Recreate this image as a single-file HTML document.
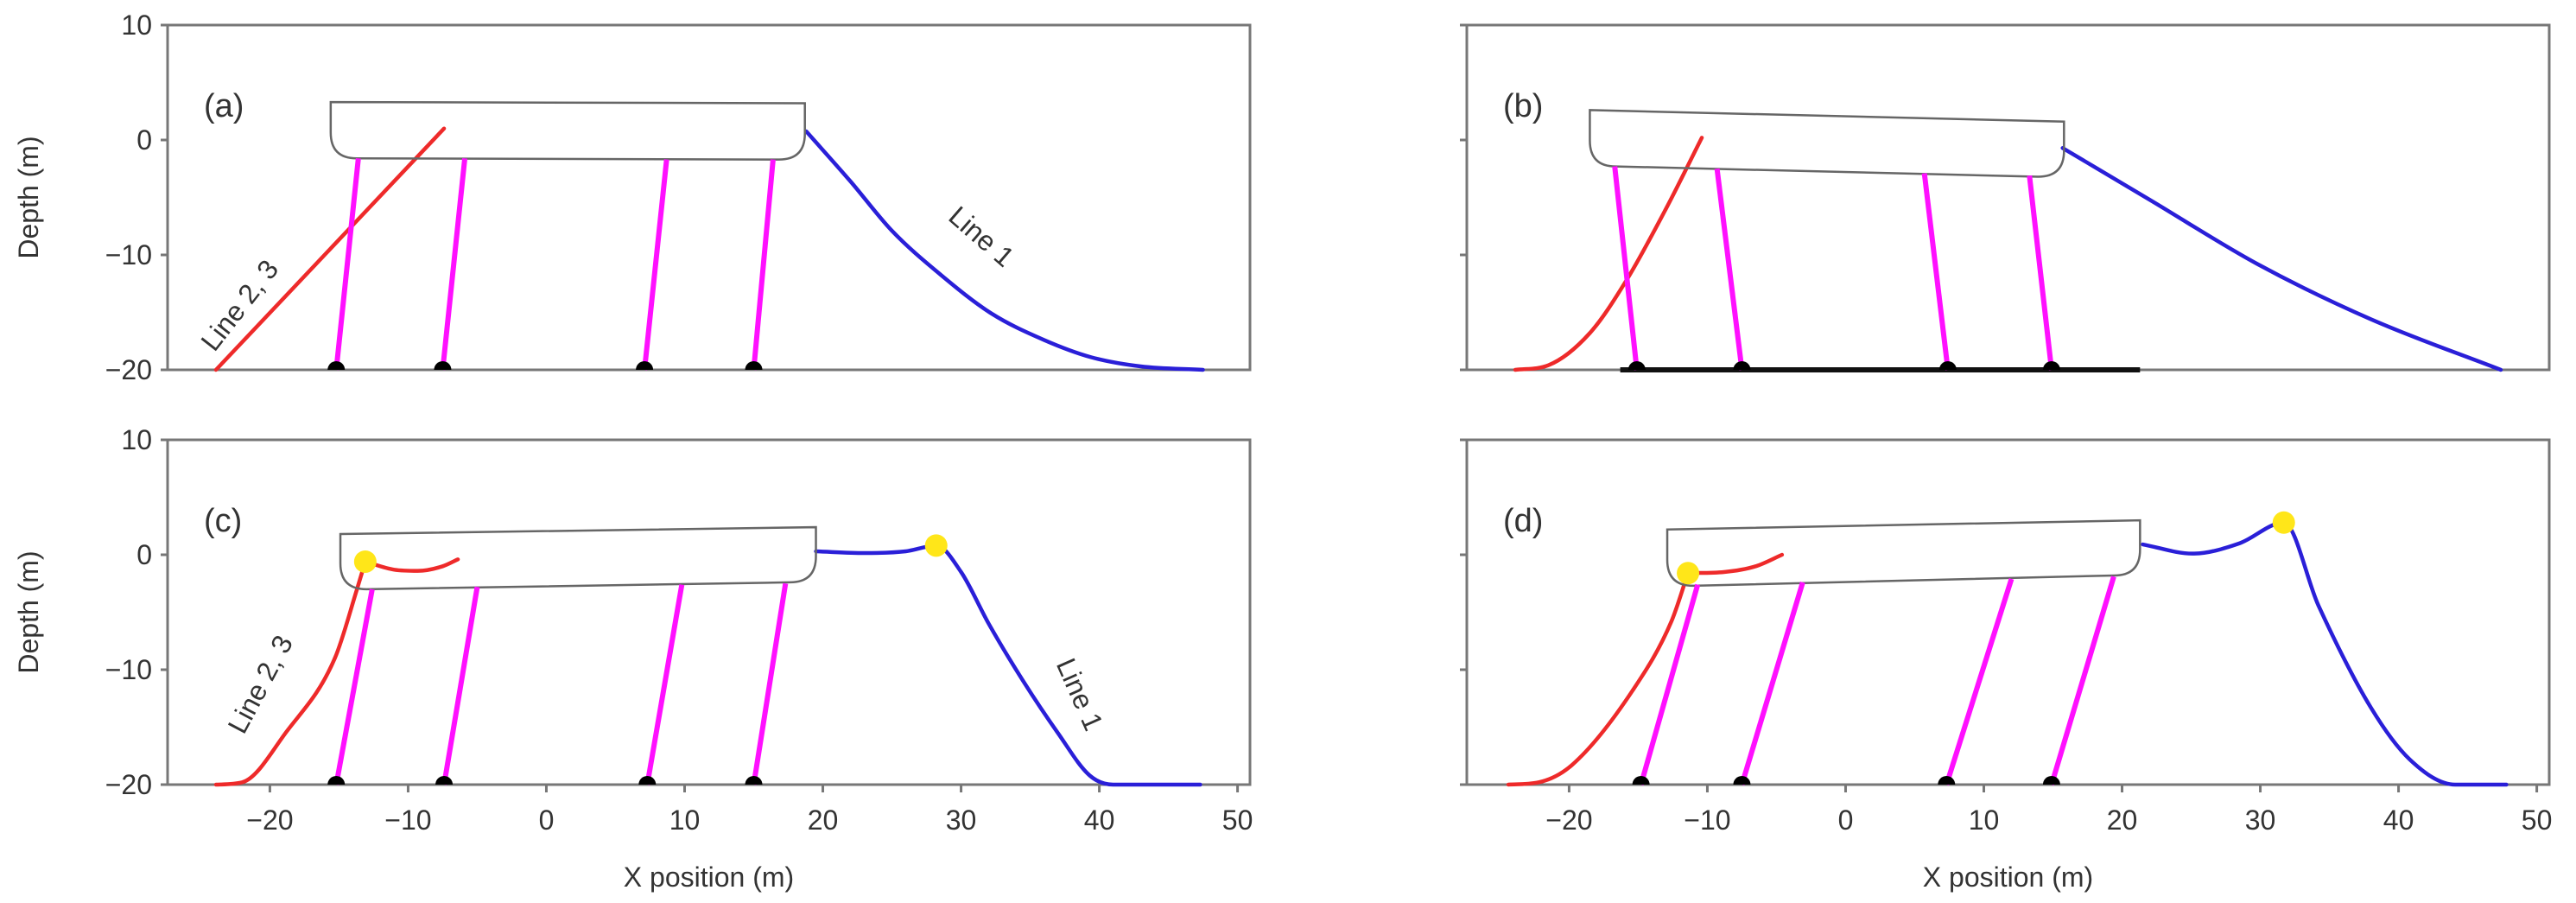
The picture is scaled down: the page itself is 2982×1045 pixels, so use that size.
<!DOCTYPE html>
<html><head><meta charset="utf-8"><style>
html,body{margin:0;padding:0;background:#fff;}
svg{display:block;}
text{font-family:"Liberation Sans",sans-serif;fill:#333;}
</style></head><body>
<svg id="fig" width="2982" height="1045" viewBox="0 0 2982 1045" xmlns="http://www.w3.org/2000/svg"></svg>
<script>
// ---- data (x in m, depth in m) ----
const xTicks = [-20,-10,0,10,20,30,40,50];
const yTicks = [10,0,-10,-20];
const panelLabels = ['(a)','(b)','(c)','(d)'];
// barge corners: TL, TR, BR, BL
const bargeA = [[-15.6,3.3],[18.7,3.2],[18.7,-1.7],[-15.6,-1.6]];
const bargeB = [[-18.5,2.6],[15.8,1.6],[15.8,-3.2],[-18.5,-2.3]];
const bargeC = [[-14.9,1.8],[19.5,2.4],[19.5,-2.4],[-14.9,-3.0]];
const bargeD = [[-12.9,2.2],[21.3,3.0],[21.3,-1.8],[-12.9,-2.7]];
// mooring legs: [topX, topY, bottomX]
const legsA = [[-13.6,-1.6,-15.2],[-5.9,-1.6,-7.5],[8.7,-1.7,7.1],[16.4,-1.7,15.0]];
const legsB = [[-16.7,-2.3,-15.1],[-9.3,-2.5,-7.5],[5.7,-2.9,7.4],[13.3,-3.1,14.9]];
const legsC = [[-12.6,-3.0,-15.2],[-5.0,-2.8,-7.4],[9.8,-2.6,7.3],[17.3,-2.5,15.0]];
const legsD = [[-10.7,-2.6,-14.8],[-3.1,-2.4,-7.5],[12.0,-2.1,7.3],[19.4,-1.9,14.9]];
// line 1 (blue)
const blueA = [[18.8,0.75],[22,-3.6],[25,-7.9],[28.5,-11.7],[32.2,-15.1],[36,-17.4],[39.4,-18.9],[43,-19.7],[47.5,-20]];
const blueB = [[15.7,-0.7],[22,-5.2],[29.8,-10.8],[38,-15.6],[47.4,-20]];
const blueC = [[19.5,0.3],[23,0.15],[26,0.3],[28.2,0.8],[30,-1.5],[32,-6],[34.5,-11],[37,-15.5],[39.3,-19.2],[41,-20],[47.3,-20]];
const blueD = [[21.5,0.9],[25.1,0.1],[28.5,1.0],[31.7,2.8],[34.2,-4.4],[38,-13.3],[40.8,-17.8],[44.1,-20],[47.8,-20]];
// lines 2,3 (red)
const redA = [[-23.9,-20],[-7.4,1.0]];
const redB = [[-23.9,-20],[-21.5,-19.6],[-18.5,-16.8],[-15.9,-12.3],[-13,-6],[-10.4,0.2]];
const redC = [[-23.9,-20],[-22,-19.8],[-18.8,-15.4],[-15.3,-9.0],[-13.7,-3.0],[-13.1,-0.6]];
const redCshort = [[-13.1,-0.6],[-11,-1.3],[-9.3,-1.4],[-7.5,-1.0],[-6.4,-0.4]];
const redD = [[-24.4,-20],[-22.2,-19.8],[-19.8,-18.3],[-15.4,-11.8],[-12.6,-5.8],[-11.4,-1.6]];
const redDshort = [[-11.4,-1.6],[-8.8,-1.5],[-6.5,-1.0],[-4.6,0]];
// buoys (yellow)
const buoysC = [[-13.1,-0.6],[28.2,0.8]];
const buoysD = [[-11.4,-1.6],[31.7,2.8]];
const seabedB = [-16.3,21.3];

const panels = [
 {id:'a',x0:194,y0:29,barge:bargeA,legs:legsA,blue:blueA,red:[redA],buoys:[],seabed:null,yl:true,xl:false},
 {id:'b',x0:1698,y0:29,barge:bargeB,legs:legsB,blue:blueB,red:[redB],buoys:[],seabed:seabedB,yl:false,xl:false},
 {id:'c',x0:194,y0:509,barge:bargeC,legs:legsC,blue:blueC,red:[redC,redCshort],buoys:buoysC,seabed:null,yl:true,xl:true},
 {id:'d',x0:1698,y0:509,barge:bargeD,legs:legsD,blue:blueD,red:[redD,redDshort],buoys:buoysD,seabed:null,yl:false,xl:true}
];
const XMIN=-27.4, XMAX=50.9, YMIN=-20, YMAX=10, W=1253, H=399;
const NS='http://www.w3.org/2000/svg';
const svg=document.getElementById('fig');
function mk(tag,attrs,parent){const e=document.createElementNS(NS,tag);for(const k in attrs)e.setAttribute(k,attrs[k]);(parent||svg).appendChild(e);return e;}
// monotone cubic (in x) path
function smooth(p){
  const n=p.length;
  if(n<3) return 'M'+p.map(q=>q.join(',')).join(' L');
  const d=[],m=[];
  for(let i=0;i<n-1;i++) d.push((p[i+1][1]-p[i][1])/(p[i+1][0]-p[i][0]));
  m[0]=d[0]; m[n-1]=d[n-2];
  for(let i=1;i<n-1;i++) m[i]=(d[i-1]*d[i]<=0)?0:(d[i-1]+d[i])/2;
  for(let i=0;i<n-1;i++){
    if(d[i]===0){m[i]=0;m[i+1]=0;continue;}
    const a=m[i]/d[i],b=m[i+1]/d[i],s=a*a+b*b;
    if(s>9){const t=3/Math.sqrt(s);m[i]=t*a*d[i];m[i+1]=t*b*d[i];}
  }
  let s='M'+p[0][0]+','+p[0][1];
  for(let i=0;i<n-1;i++){
    const h=(p[i+1][0]-p[i][0])/3;
    s+=' C'+(p[i][0]+h)+','+(p[i][1]+m[i]*h)+' '+(p[i+1][0]-h)+','+(p[i+1][1]-m[i+1]*h)+' '+p[i+1][0]+','+p[i+1][1];
  }
  return s;
}
panels.forEach((P,pi)=>{
  const sx=v=>P.x0+(v-XMIN)/(XMAX-XMIN)*W;
  const sy=v=>P.y0+(YMAX-v)/(YMAX-YMIN)*H;
  const g=mk('g',{});
  
  
  const fr=mk('rect',{x:P.x0,y:P.y0,width:W,height:H,fill:'none',stroke:'#777','stroke-width':3},g);
  
  
  yTicks.forEach(t=>{
    const tk=mk('line',{x1:P.x0-8,x2:P.x0,y1:sy(t),y2:sy(t),stroke:'#777','stroke-width':3},g);
    
    
    if(P.yl){
      const tl=mk('text',{x:P.x0-18,y:sy(t)+11,'font-size':32,'text-anchor':'end'},g);
      tl.textContent=String(t).replace('-','\u2212');
      
      
    }
  });
  if(P.yl){
    const yt=mk('text',{x:0,y:0,'font-size':32,'text-anchor':'middle',transform:'translate(44,'+(P.y0+H/2)+') rotate(-90)'},g);
    yt.textContent='Depth (m)';
    
    
  }
  if(P.xl){
    xTicks.forEach(t=>{
      const tk=mk('line',{x1:sx(t),x2:sx(t),y1:P.y0+H,y2:P.y0+H+9,stroke:'#777','stroke-width':3},g);
      
      
      const tl=mk('text',{x:sx(t),y:P.y0+H+52,'font-size':32,'text-anchor':'middle'},g);
      tl.textContent=String(t).replace('-','\u2212');
      
      
    });
    const xt=mk('text',{x:P.x0+W/2,y:P.y0+H+118,'font-size':32,'text-anchor':'middle'},g);
    xt.textContent='X position (m)';
    
    
  }
  const pl=mk('text',{x:P.x0+42,y:P.y0+106,'font-size':38},g);
  pl.textContent=panelLabels[pi];
  
  
  if(P.seabed){
    const sb=mk('line',{x1:sx(P.seabed[0]),x2:sx(P.seabed[1]),y1:sy(-20),y2:sy(-20),stroke:'#111','stroke-width':6},g);
    
    
  }
  P.red.forEach(r=>{
    const pts=r.map(p=>[sx(p[0]),sy(p[1])]);
    const pa=mk('path',{d:smooth(pts),fill:'none',stroke:'#ee2a2a','stroke-width':4.5,'stroke-linecap':'round'},g);
    
    
  });
  {
    const pts=P.blue.map(p=>[sx(p[0]),sy(p[1])]);
    const pa=mk('path',{d:smooth(pts),fill:'none',stroke:'#2a1fd8','stroke-width':4.5,'stroke-linecap':'round'},g);
    
    
  }
  {
    const b=P.barge.map(p=>[sx(p[0]),sy(p[1])]);
    const [TL,TR,BR,BL]=b; const r=30;
    const d='M'+TL+' L'+TR+' L'+[TR[0],BR[1]-r]+' Q'+BR+' '+[BR[0]-r,BR[1]]+' L'+[BL[0]+r,BL[1]]+' Q'+BL+' '+[BL[0],BL[1]-r]+' Z';
    const bp=mk('path',{d:d,fill:'none',stroke:'#666','stroke-width':2.5},g);
    
    
  }
  P.legs.forEach(L=>{
    const ln=mk('line',{x1:sx(L[0]),y1:sy(L[1]),x2:sx(L[2]),y2:sy(-20),stroke:'#ff10ff','stroke-width':6},g);
    
    
    const cx=sx(L[2]),cy=sy(-20);
    const an=mk('path',{d:'M'+(cx-10)+','+cy+' A10,10 0 0 1 '+(cx+10)+','+cy+' Z',fill:'#000'},g);
    
    
  });
  P.buoys.forEach(bu=>{
    const c=mk('circle',{cx:sx(bu[0]),cy:sy(bu[1]),r:13,fill:'#ffe619'},g);
    
    
  });
});
function ann(txt,x,y,rot,name){
  const t=mk('text',{'font-size':32,'text-anchor':'middle',transform:'translate('+x+','+y+') rotate('+rot+')'});
  t.textContent=txt;
  
  
}
ann('Line 2, 3',286,360,-52,'line-2-3-label-a');
ann('Line 1',1129,282,41,'line-1-label-a');
ann('Line 2, 3',311,797,-62,'line-2-3-label-c');
ann('Line 1',1240,808,66,'line-1-label-c');
</script>
</body></html>
